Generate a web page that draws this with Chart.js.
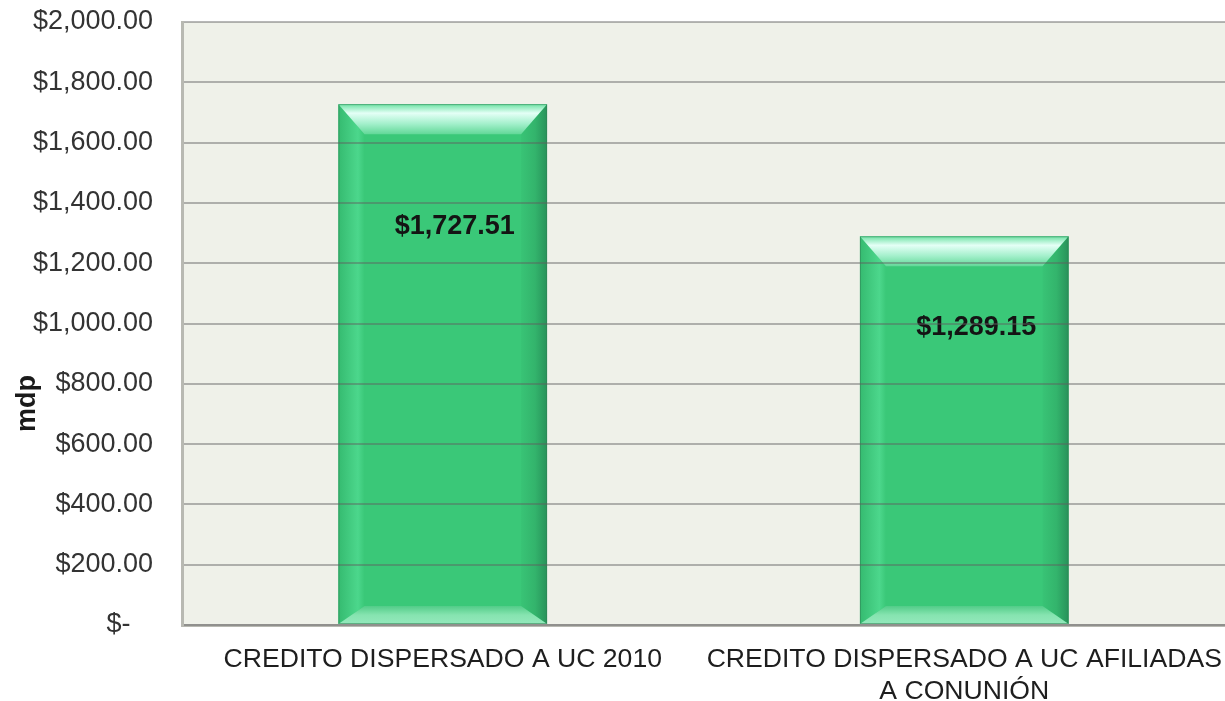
<!DOCTYPE html>
<html>
<head>
<meta charset="utf-8">
<script src="https://cdn.jsdelivr.net/npm/chart.js@4"></script>
<style>
  html, body { margin: 0; padding: 0; background: #fff; overflow: hidden; }
  #wrap { width: 1225px; height: 701px; position: relative; }
  canvas { display: block; }
</style>
</head>
<body>
<div id="wrap"><canvas id="c"></canvas></div>
<script>
// data
const categories = [
  ['CREDITO DISPERSADO A UC 2010'],
  ['CREDITO DISPERSADO A UC AFILIADAS', 'A CONUNIÓN']
];
const montos = [1727.51, 1289.15];
const yMin = 0, yMax = 2000, yStep = 200;
const yTitle = 'mdp';

const GREEN = '#3ac878';
const FONT = '"Liberation Sans", Arial, sans-serif';

const fmt = v => v === 0 ? '$-   ' :
  '$' + v.toLocaleString('en-US', { minimumFractionDigits: 2, maximumFractionDigits: 2 });

// plot area background + axis title (sits lower than the middle in the original)
const plotBg = {
  id: 'plotBg',
  beforeDraw(chart) {
    const { ctx, chartArea: a } = chart;
    ctx.save();
    ctx.fillStyle = '#eff1e9';
    ctx.fillRect(a.left, a.top, a.right - a.left, a.bottom - a.top);
    ctx.restore();
  },
  afterDraw(chart) {
    const { ctx } = chart;
    const ys = chart.scales.y;
    ctx.save();
    ctx.translate(28, ys.getPixelForValue(735));
    ctx.rotate(-Math.PI / 2);
    ctx.fillStyle = '#1a1a1a';
    ctx.font = 'bold 27px ' + FONT;
    ctx.textAlign = 'center';
    ctx.textBaseline = 'middle';
    ctx.fillText(yTitle, 0, 0);
    ctx.restore();
  }
};

// bevel look on each bar + value labels
const bevel = {
  id: 'bevel',
  afterDatasetsDraw(chart) {
    const { ctx } = chart;
    const meta = chart.getDatasetMeta(0);
    const ys = chart.scales.y;
    meta.data.forEach((bar, i) => {
      const w = bar.width, l = bar.x - w / 2, r = bar.x + w / 2;
      const t = bar.y, b = bar.base, ks = 26, kt = 30, kb = 18;
      ctx.save();
      // left strip
      let g = ctx.createLinearGradient(l, 0, l + ks, 0);
      g.addColorStop(0, '#35bb70');
      g.addColorStop(0.75, '#4cd78c');
      g.addColorStop(1, GREEN);
      ctx.fillStyle = g;
      ctx.beginPath();
      ctx.moveTo(l, t); ctx.lineTo(l + ks, t + kt); ctx.lineTo(l + ks, b - kb); ctx.lineTo(l, b); ctx.closePath(); ctx.fill();
      // right strip darker
      g = ctx.createLinearGradient(r - ks - 4, 0, r, 0);
      g.addColorStop(0, GREEN);
      g.addColorStop(0.6, '#33b46c');
      g.addColorStop(1, '#28925a');
      ctx.fillStyle = g;
      ctx.beginPath();
      ctx.moveTo(r, t); ctx.lineTo(r - ks, t + kt); ctx.lineTo(r - ks, b - kb); ctx.lineTo(r, b); ctx.closePath(); ctx.fill();
      // top
      g = ctx.createLinearGradient(0, t, 0, t + kt);
      g.addColorStop(0, '#6ee2a4');
      g.addColorStop(0.3, '#e4fff6');
      g.addColorStop(0.65, '#a4f0cc');
      g.addColorStop(1, '#62d898');
      ctx.fillStyle = g;
      ctx.beginPath();
      ctx.moveTo(l, t); ctx.lineTo(r, t); ctx.lineTo(r - ks, t + kt); ctx.lineTo(l + ks, t + kt); ctx.closePath(); ctx.fill();
      // bottom
      g = ctx.createLinearGradient(0, b - kb, 0, b);
      g.addColorStop(0, '#52cc88');
      g.addColorStop(0.5, '#86e4b0');
      g.addColorStop(1, '#94e8bc');
      ctx.fillStyle = g;
      ctx.beginPath();
      ctx.moveTo(l, b); ctx.lineTo(r, b); ctx.lineTo(r - ks, b - kb); ctx.lineTo(l + ks, b - kb); ctx.closePath(); ctx.fill();
      // outline
      ctx.strokeStyle = 'rgba(50,130,85,0.55)';
      ctx.lineWidth = 1;
      ctx.strokeRect(l + 0.5, t + 0.5, w - 1, b - t - 1);
      // value label
      const v = chart.data.datasets[0].data[i];
      ctx.fillStyle = '#141414';
      ctx.font = 'bold 27px ' + FONT;
      ctx.textAlign = 'center';
      ctx.textBaseline = 'middle';
      ctx.fillText(fmt(v), bar.x + 12, ys.getPixelForValue(v * 0.765));
      ctx.restore();
    });
  }
};

new Chart(document.getElementById('c'), {
  type: 'bar',
  data: {
    labels: categories,
    datasets: [{
      data: montos,
      backgroundColor: GREEN,
      borderWidth: 0,
      barPercentage: 0.4,
      categoryPercentage: 1
    }]
  },
  options: {
    responsive: true,
    maintainAspectRatio: false,
    animation: false,
    layout: { padding: { top: 22, right: 0, left: 0, bottom: 0 } },
    plugins: { legend: { display: false }, tooltip: { enabled: false } },
    scales: {
      x: {
        afterFit(s) { s.height = 76; s.paddingLeft = 0; s.paddingRight = 0; },
        grid: { display: false, drawTicks: false },
        border: { display: true, color: '#b8b9b2', width: 3 },
        ticks: { color: '#1e1e1e', font: { family: FONT, size: 26.6 }, padding: 19, maxRotation: 0, autoSkip: false }
      },
      y: {
        min: yMin, max: yMax,
        afterFit(s) { s.width = 182; s.paddingTop = 0; s.paddingBottom = 0; },
        grid: { color: 'rgba(95,95,95,0.45)', lineWidth: 2, drawTicks: false, z: 1 },
        border: { display: true, color: '#b8b9b2', width: 3, z: 1 },
        ticks: { stepSize: yStep, color: '#333', font: { family: FONT, size: 27 }, padding: 29, callback: v => fmt(v) }
      }
    }
  },
  plugins: [plotBg, bevel]
});
</script>
</body>
</html>
